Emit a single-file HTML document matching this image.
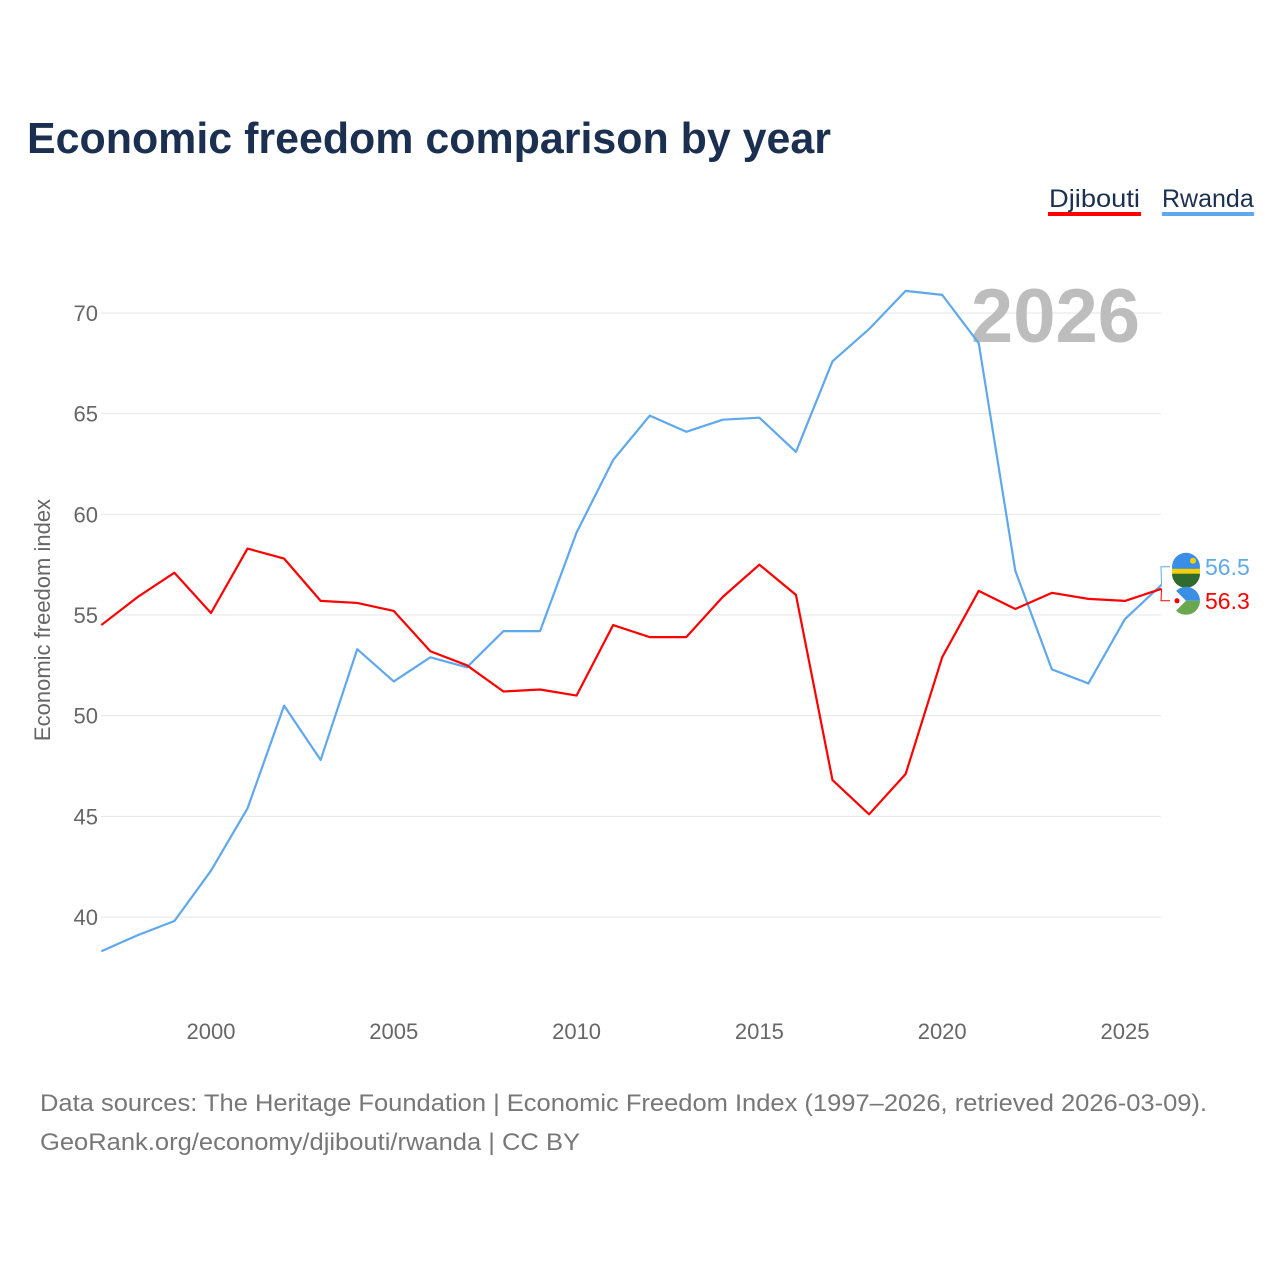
<!DOCTYPE html>
<html><head><meta charset="utf-8">
<style>
body{margin:0;background:#fff;font-family:"Liberation Sans",sans-serif;}
svg text{font-family:"Liberation Sans",sans-serif;}
</style></head>
<body>
<svg id="chart" width="1280" height="1280" viewBox="0 0 1280 1280" xmlns="http://www.w3.org/2000/svg">
<rect width="1280" height="1280" fill="#fff"/>
<text x="27" y="153" font-size="44" font-weight="bold" fill="#1b3050" textLength="804" lengthAdjust="spacingAndGlyphs">Economic freedom comparison by year</text>
<g>
<g>
<text x="1049" y="207" font-size="25" fill="#1b3050" textLength="91" lengthAdjust="spacingAndGlyphs">Djibouti</text>
<rect x="1048" y="212" width="93" height="4" fill="#ff0000"/></g>
<g>
<text x="1162" y="207" font-size="25" fill="#1b3050">Rwanda</text>
<rect x="1162" y="212" width="92" height="4" fill="#5fa8ec"/></g>
</g>
<g id="grid"></g>
<g id="yticks"></g>
<g id="xticks"></g>
<text x="1140" y="342" font-size="76" font-weight="bold" fill="#bdbdbd" text-anchor="end">2026</text>
<text transform="translate(50,620) rotate(-90)" font-size="22" fill="#666" text-anchor="middle">Economic freedom index</text>
<g id="series"></g>
<g id="ends"></g>
<text x="40" y="1111" font-size="24" fill="#777" textLength="1167" lengthAdjust="spacingAndGlyphs">Data sources: The Heritage Foundation | Economic Freedom Index (1997–2026, retrieved 2026-03-09).</text>
<text x="40" y="1150" font-size="24" fill="#777" textLength="540" lengthAdjust="spacingAndGlyphs">GeoRank.org/economy/djibouti/rwanda | CC BY</text>
</svg>
<script>
const years=[1997,1998,1999,2000,2001,2002,2003,2004,2005,2006,2007,2008,2009,2010,2011,2012,2013,2014,2015,2016,2017,2018,2019,2020,2021,2022,2023,2024,2025,2026];
const djibouti=[54.5,55.9,57.1,55.1,58.3,57.8,55.7,55.6,55.2,53.2,52.5,51.2,51.3,51.0,54.5,53.9,53.9,55.9,57.5,56.0,46.8,45.1,47.1,52.9,56.2,55.3,56.1,55.8,55.7,56.3];
const rwanda=[38.3,39.1,39.8,42.3,45.4,50.5,47.8,53.3,51.7,52.9,52.4,54.2,54.2,59.1,62.7,64.9,64.1,64.7,64.8,63.1,67.6,69.2,71.1,70.9,68.5,57.2,52.3,51.6,54.8,56.5];
const yTicks=[40,45,50,55,60,65,70];
const xTicks=[2000,2005,2010,2015,2020,2025];
const NS="http://www.w3.org/2000/svg";
const X=y=>101.3+(y-1997)*36.56;
const Y=v=>313+(70-v)*20.133;
function mk(tag,attrs,parent,txt){const e=document.createElementNS(NS,tag);for(const k in attrs)e.setAttribute(k,attrs[k]);if(txt!==undefined)e.textContent=txt;parent.appendChild(e);return e;}
const grid=document.getElementById('grid'),yt=document.getElementById('yticks'),xt=document.getElementById('xticks'),ser=document.getElementById('series'),ends=document.getElementById('ends');
yTicks.forEach(t=>{
 const l=mk('line',{x1:101,x2:1161,y1:Y(t),y2:Y(t),stroke:'#e6e6e6','stroke-width':1},grid);
 
 
 const tx=mk('text',{x:98,y:Y(t)+8,'font-size':22,fill:'#666','text-anchor':'end'},yt,t);
 
 
});
xTicks.forEach(t=>{
 const tx=mk('text',{x:X(t),y:1039,'font-size':22,fill:'#666','text-anchor':'middle'},xt,t);
 
 
});
function line(vals,color,name){
 const p=mk('polyline',{points:vals.map((v,i)=>X(years[i])+','+Y(v)).join(' '),fill:'none',stroke:color,'stroke-width':2.2,'stroke-linejoin':'round'},ser);
 
 
}
line(rwanda,'#5fa8ec','line-rwanda');
line(djibouti,'#ff0000','line-djibouti');
const n=years.length-1;
const rv=rwanda[n],dv=djibouti[n];
let ry=Y(rv),dy=Y(dv);
let ly=Math.min(ry,dy)-1, ly2=Math.max(ry,dy)+1;
if(ly2-ly<34){const m=(ly+ly2)/2-3;if(rv>=dv){ly=m-17;ly2=m+17;}else{ly=m+17;ly2=m-17;}}
const rLab=rv>=dv?ly:ly2, dLab=rv>=dv?ly2:ly;
mk('path',{d:`M${X(2026)},${ry} L1161,${rLab} L1170,${rLab}`,stroke:'#5fa8ec',fill:'none','stroke-width':1},ends);
mk('path',{d:`M${X(2026)},${dy} L1161,${dLab} L1170,${dLab}`,stroke:'#ff0000',fill:'none','stroke-width':1},ends);
const f1=mk('g',{},ends);


mk('circle',{cx:1186,cy:rLab,r:14,fill:'#3a8ee6'},f1);
mk('rect',{x:1172,y:rLab+2,width:28,height:5,fill:'#f5d000'},f1);
mk('path',{d:`M1172,${rLab+7} h28 a14,14 0 0 1 -28,0z`,fill:'#2f6b2f'},f1);
mk('circle',{cx:1193,cy:rLab-6,r:3,fill:'#f5d000'},f1);
const f2=mk('g',{},ends);


mk('path',{d:`M1172,${dLab} a14,14 0 0 1 28,0z`,fill:'#3a8ee6'},f2);
mk('path',{d:`M1172,${dLab} a14,14 0 0 0 28,0z`,fill:'#6aa84f'},f2);
mk('path',{d:`M1172,${dLab-14} L1186,${dLab} L1172,${dLab+14}z`,fill:'#fff'},f2);
mk('circle',{cx:1177,cy:dLab,r:2.5,fill:'#e00'},f2);
const t1=mk('text',{x:1205,y:rLab+8,'font-size':23,fill:'#5fa8ec'},ends,rv.toFixed(1));


const t2=mk('text',{x:1205,y:dLab+8,'font-size':23,fill:'#ff0000'},ends,dv.toFixed(1));


</script>
</body></html>
